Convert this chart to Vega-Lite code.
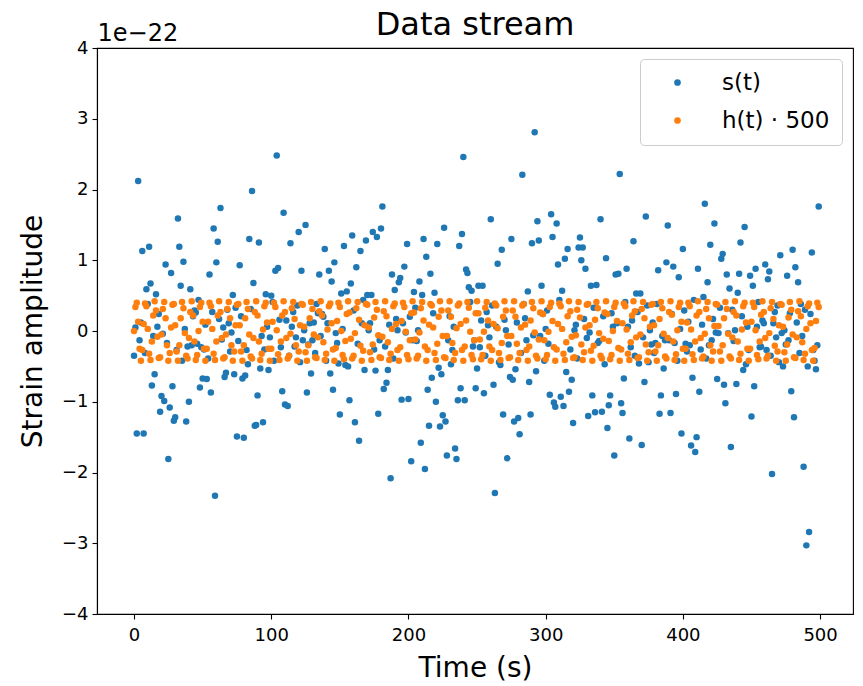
{
"$schema": "https://vega.github.io/schema/vega-lite/v6.json",
"width": 756, "height": 566,
"autosize": {"type": "none"},
"padding": {"left": 97, "top": 48, "right": 10, "bottom": 72},
"background": "white",
"title": {"text": "Data stream", "fontSize": 32, "font": "DejaVu Sans", "fontWeight": "normal", "color": "black", "offset": 0, "baseline": "alphabetic", "dy": 46},
"resolve": {"axis": {"x": "independent"}},
"config": {
 "view": {"stroke": "black", "strokeWidth": 1.1},
 "axis": {"domainColor": "black", "tickColor": "black", "labelColor": "black", "titleColor": "black", "labelFont": "DejaVu Sans", "titleFont": "DejaVu Sans", "titleFontWeight": "normal", "grid": false, "tickSize": 5, "labelFontSize": 18, "titleFontSize": 28, "domainWidth": 1.1, "tickWidth": 1.1},
 "legend": {"orient": "top-right", "offset": 11, "padding": 12, "strokeColor": "#cccccc", "fillColor": "white", "cornerRadius": 4, "labelFont": "DejaVu Sans", "labelFontSize": 23, "labelColor": "black", "symbolSize": 45, "symbolType": "circle", "symbolOffset": 14, "labelOffset": 33, "rowPadding": 14, "symbolStrokeWidth": 0}
},
"data": {"values": [
{"t":0,"s":-0.35,"h":0},{"t":1,"s":0.05,"h":0.34},{"t":2,"s":-1.45,"h":0.40},{"t":3,"s":2.12,"h":0.13},{"t":4,"s":-0.13,"h":-0.25},{"t":5,"s":0.12,"h":-0.42},{"t":6,"s":1.13,"h":-0.27},{"t":7,"s":-1.45,"h":0.10},{"t":8,"s":-0.31,"h":0.39},{"t":9,"s":0.59,"h":0.35},
{"t":10,"s":0.38,"h":0.03},{"t":11,"s":1.19,"h":-0.32},{"t":12,"s":0.67,"h":-0.41},{"t":13,"s":-0.77,"h":-0.15},{"t":14,"s":-0.07,"h":0.22},{"t":15,"s":-0.61,"h":0.42},{"t":16,"s":0.52,"h":0.29},{"t":17,"s":0.06,"h":-0.08},{"t":18,"s":0.24,"h":-0.38},{"t":19,"s":-1.14,"h":-0.37},
{"t":20,"s":-0.92,"h":-0.05},{"t":21,"s":-0.04,"h":0.31},{"t":22,"s":-0.99,"h":0.41},{"t":23,"s":0.94,"h":0.18},{"t":24,"s":-0.17,"h":-0.20},{"t":25,"s":-1.81,"h":-0.42},{"t":26,"s":-1.08,"h":-0.31},{"t":27,"s":0.82,"h":0.05},{"t":28,"s":-0.78,"h":0.37},{"t":29,"s":-1.27,"h":0.38},
{"t":30,"s":-1.22,"h":0.08},{"t":31,"s":-0.27,"h":-0.29},{"t":32,"s":1.59,"h":-0.42},{"t":33,"s":1.19,"h":-0.20},{"t":34,"s":0.64,"h":0.18},{"t":35,"s":-0.42,"h":0.41},{"t":36,"s":0.98,"h":0.32},{"t":37,"s":0.03,"h":-0.03},{"t":38,"s":-1.28,"h":-0.35},{"t":39,"s":-0.22,"h":-0.39},
{"t":40,"s":-1.00,"h":-0.10},{"t":41,"s":0.59,"h":0.27},{"t":42,"s":-0.20,"h":0.42},{"t":43,"s":0.21,"h":0.22},{"t":44,"s":0.29,"h":-0.15},{"t":45,"s":0.26,"h":-0.41},{"t":46,"s":-0.18,"h":-0.34},{"t":47,"s":0.44,"h":0},{"t":48,"s":-0.80,"h":0.34},{"t":49,"s":-0.23,"h":0.40},
{"t":50,"s":-0.67,"h":0.13},{"t":51,"s":-0.26,"h":-0.25},{"t":52,"s":0.09,"h":-0.42},{"t":53,"s":-0.68,"h":-0.25},{"t":54,"s":-0.39,"h":0.13},{"t":55,"s":0.80,"h":0.40},{"t":56,"s":-0.87,"h":0.35},{"t":57,"s":0.27,"h":0.03},{"t":58,"s":1.45,"h":-0.32},{"t":59,"s":-2.33,"h":-0.41},
{"t":60,"s":0.97,"h":-0.15},{"t":61,"s":1.26,"h":0.22},{"t":62,"s":0.17,"h":0.42},{"t":63,"s":1.74,"h":0.27},{"t":64,"s":-0.12,"h":-0.10},{"t":65,"s":0.05,"h":-0.39},{"t":66,"s":-0.65,"h":-0.37},{"t":67,"s":-0.59,"h":-0.05},{"t":68,"s":0.30,"h":0.31},{"t":69,"s":0.11,"h":0.41},
{"t":70,"s":-0.29,"h":0.18},{"t":71,"s":-0.02,"h":-0.20},{"t":72,"s":0.51,"h":-0.42},{"t":73,"s":-0.61,"h":-0.29},{"t":74,"s":0.33,"h":0.08},{"t":75,"s":-1.49,"h":0.37},{"t":76,"s":-0.14,"h":0.38},{"t":77,"s":0.93,"h":0.08},{"t":78,"s":0.21,"h":-0.29},{"t":79,"s":-0.67,"h":-0.42},
{"t":80,"s":-1.51,"h":-0.20},{"t":81,"s":-0.63,"h":0.18},{"t":82,"s":-0.27,"h":0.41},{"t":83,"s":-0.47,"h":0.31},{"t":84,"s":1.30,"h":-0.05},{"t":85,"s":0.31,"h":-0.36},{"t":86,"s":1.98,"h":-0.39},{"t":87,"s":0.68,"h":-0.10},{"t":88,"s":-1.34,"h":0.27},{"t":89,"s":-1.33,"h":0.42},
{"t":90,"s":-0.91,"h":0.22},{"t":91,"s":1.25,"h":-0.15},{"t":92,"s":-0.53,"h":-0.41},{"t":93,"s":-0.07,"h":-0.32},{"t":94,"s":-1.29,"h":0.02},{"t":95,"s":-0.26,"h":0.35},{"t":96,"s":0.52,"h":0.40},{"t":97,"s":0.06,"h":0.12},{"t":98,"s":-0.55,"h":-0.25},{"t":99,"s":-0.09,"h":-0.42},
{"t":100,"s":0.50,"h":-0.25},{"t":101,"s":0.41,"h":0.13},{"t":102,"s":-0.42,"h":0.40},{"t":103,"s":0.85,"h":0.34},{"t":104,"s":2.48,"h":0.01},{"t":105,"s":0.89,"h":-0.33},{"t":106,"s":0.16,"h":-0.41},{"t":107,"s":-0.23,"h":-0.15},{"t":108,"s":-0.85,"h":0.22},{"t":109,"s":1.67,"h":0.42},
{"t":110,"s":-1.04,"h":0.27},{"t":111,"s":0.15,"h":-0.10},{"t":112,"s":-1.06,"h":-0.39},{"t":113,"s":-0.35,"h":-0.35},{"t":114,"s":1.24,"h":-0.04},{"t":115,"s":0.06,"h":0.32},{"t":116,"s":0.27,"h":0.41},{"t":117,"s":-0.22,"h":0.17},{"t":118,"s":-0.09,"h":-0.20},{"t":119,"s":0.36,"h":-0.42},
{"t":120,"s":1.40,"h":-0.29},{"t":121,"s":-0.44,"h":0.08},{"t":122,"s":0.85,"h":0.38},{"t":123,"s":-0.13,"h":0.37},{"t":124,"s":0.01,"h":0.06},{"t":125,"s":1.50,"h":-0.30},{"t":126,"s":-0.87,"h":-0.42},{"t":127,"s":-0.19,"h":-0.20},{"t":128,"s":0.11,"h":0.18},{"t":129,"s":-0.60,"h":0.41},
{"t":130,"s":-0.13,"h":0.31},{"t":131,"s":0.12,"h":-0.05},{"t":132,"s":-0.31,"h":-0.37},{"t":133,"s":0.38,"h":-0.38},{"t":134,"s":0.25,"h":-0.09},{"t":135,"s":0.80,"h":0.28},{"t":136,"s":-0.07,"h":0.42},{"t":137,"s":0.24,"h":0.22},{"t":138,"s":0.20,"h":-0.16},{"t":139,"s":1.16,"h":-0.41},
{"t":140,"s":-0.42,"h":-0.32},{"t":141,"s":0.11,"h":0.02},{"t":142,"s":0.85,"h":0.35},{"t":143,"s":-0.60,"h":0.39},{"t":144,"s":0.70,"h":0.11},{"t":145,"s":-0.83,"h":-0.26},{"t":146,"s":0.97,"h":-0.42},{"t":147,"s":-0.03,"h":-0.24},{"t":148,"s":-0.17,"h":0.14},{"t":149,"s":-0.46,"h":0.40},
{"t":150,"s":-1.18,"h":0.34},{"t":151,"s":0.53,"h":0},{"t":152,"s":0.03,"h":-0.34},{"t":153,"s":1.20,"h":-0.40},{"t":154,"s":-0.48,"h":-0.14},{"t":155,"s":0.56,"h":0.24},{"t":156,"s":-0.50,"h":0.42},{"t":157,"s":-0.98,"h":0.26},{"t":158,"s":0.67,"h":-0.11},{"t":159,"s":1.35,"h":-0.39},
{"t":160,"s":0.29,"h":-0.35},{"t":161,"s":-1.29,"h":-0.03},{"t":162,"s":0.90,"h":0.32},{"t":163,"s":-0.18,"h":0.41},{"t":164,"s":-1.55,"h":0.16},{"t":165,"s":1.13,"h":-0.21},{"t":166,"s":0.11,"h":-0.42},{"t":167,"s":0.44,"h":-0.28},{"t":168,"s":-0.55,"h":0.08},{"t":169,"s":1.28,"h":0.38},
{"t":170,"s":0.51,"h":0.37},{"t":171,"s":0.01,"h":0.05},{"t":172,"s":0.11,"h":-0.30},{"t":173,"s":0.51,"h":-0.41},{"t":174,"s":1.40,"h":-0.19},{"t":175,"s":-0.26,"h":0.19},{"t":176,"s":-0.56,"h":0.41},{"t":177,"s":1.33,"h":0.30},{"t":178,"s":-1.17,"h":-0.06},{"t":179,"s":-0.13,"h":-0.37},
{"t":180,"s":1.45,"h":-0.38},{"t":181,"s":1.76,"h":-0.08},{"t":182,"s":-0.82,"h":0.28},{"t":183,"s":-0.22,"h":0.42},{"t":184,"s":-0.73,"h":0.21},{"t":185,"s":-0.55,"h":-0.16},{"t":186,"s":0.09,"h":-0.41},{"t":187,"s":-2.08,"h":-0.32},{"t":188,"s":0.80,"h":0.03},{"t":189,"s":-0.39,"h":0.35},
{"t":190,"s":0.58,"h":0.39},{"t":191,"s":0.17,"h":0.10},{"t":192,"s":0.01,"h":-0.27},{"t":193,"s":0.69,"h":-0.42},{"t":194,"s":0.75,"h":-0.23},{"t":195,"s":-0.97,"h":0.14},{"t":196,"s":0.11,"h":0.40},{"t":197,"s":0.91,"h":0.34},{"t":198,"s":-0.02,"h":-0.01},{"t":199,"s":1.23,"h":-0.34},
{"t":200,"s":-0.96,"h":-0.40},{"t":201,"s":0.20,"h":-0.13},{"t":202,"s":-1.84,"h":0.25},{"t":203,"s":-0.13,"h":0.42},{"t":204,"s":0.55,"h":0.26},{"t":205,"s":0.33,"h":-0.12},{"t":206,"s":-0.14,"h":-0.39},{"t":207,"s":0.01,"h":-0.35},{"t":208,"s":0.70,"h":-0.02},{"t":209,"s":-1.58,"h":0.32},
{"t":210,"s":0.51,"h":0.41},{"t":211,"s":1.30,"h":0.15},{"t":212,"s":-1.95,"h":-0.22},{"t":213,"s":1.05,"h":-0.42},{"t":214,"s":-0.83,"h":-0.27},{"t":215,"s":-1.34,"h":0.09},{"t":216,"s":0.81,"h":0.38},{"t":217,"s":-0.66,"h":0.36},{"t":218,"s":0.25,"h":0.05},{"t":219,"s":0.54,"h":-0.31},
{"t":220,"s":-1.00,"h":-0.41},{"t":221,"s":1.23,"h":-0.18},{"t":222,"s":-0.52,"h":0.20},{"t":223,"s":-1.35,"h":0.42},{"t":224,"s":-0.61,"h":0.29},{"t":225,"s":-1.19,"h":-0.07},{"t":226,"s":1.46,"h":-0.37},{"t":227,"s":-1.28,"h":-0.38},{"t":228,"s":-1.76,"h":-0.07},{"t":229,"s":-0.13,"h":0.29},
{"t":230,"s":0.21,"h":0.42},{"t":231,"s":-0.47,"h":0.20},{"t":232,"s":-0.27,"h":-0.17},{"t":233,"s":0.06,"h":-0.41},{"t":234,"s":-1.66,"h":-0.31},{"t":235,"s":-1.81,"h":0.04},{"t":236,"s":-0.98,"h":0.36},{"t":237,"s":1.20,"h":0.39},{"t":238,"s":-0.81,"h":0.10},{"t":239,"s":1.37,"h":-0.27},
{"t":240,"s":2.46,"h":-0.42},{"t":241,"s":-0.98,"h":-0.22},{"t":242,"s":0.87,"h":0.15},{"t":243,"s":0.82,"h":0.41},{"t":244,"s":0.62,"h":0.33},{"t":245,"s":0.41,"h":-0.01},{"t":246,"s":0.57,"h":-0.34},{"t":247,"s":-0.22,"h":-0.40},{"t":248,"s":-0.13,"h":-0.13},{"t":249,"s":-0.81,"h":0.25},
{"t":250,"s":-0.53,"h":0.42},{"t":251,"s":0.64,"h":0.25},{"t":252,"s":-0.23,"h":-0.12},{"t":253,"s":0.15,"h":-0.40},{"t":254,"s":0.64,"h":-0.34},{"t":255,"s":-0.88,"h":-0.01},{"t":256,"s":-0.35,"h":0.33},{"t":257,"s":0.27,"h":0.41},{"t":258,"s":0.08,"h":0.15},{"t":259,"s":-0.09,"h":-0.22},
{"t":260,"s":1.58,"h":-0.42},{"t":261,"s":0.36,"h":-0.27},{"t":262,"s":-0.76,"h":0.10},{"t":263,"s":-2.29,"h":0.39},{"t":264,"s":0.06,"h":0.36},{"t":265,"s":0.95,"h":0.04},{"t":266,"s":-0.44,"h":-0.31},{"t":267,"s":-0.48,"h":-0.41},{"t":268,"s":1.15,"h":-0.17},{"t":269,"s":-1.18,"h":0.20},
{"t":270,"s":0.16,"h":0.42},{"t":271,"s":0.01,"h":0.29},{"t":272,"s":-1.80,"h":-0.07},{"t":273,"s":-0.19,"h":-0.38},{"t":274,"s":-0.65,"h":-0.37},{"t":275,"s":1.30,"h":-0.07},{"t":276,"s":-0.69,"h":0.29},{"t":277,"s":-1.28,"h":0.42},{"t":278,"s":-0.54,"h":0.20},{"t":279,"s":0.12,"h":-0.18},
{"t":280,"s":-1.23,"h":-0.41},{"t":281,"s":-1.46,"h":-0.31},{"t":282,"s":-0.31,"h":0.05},{"t":283,"s":2.21,"h":0.36},{"t":284,"s":0.38,"h":0.38},{"t":285,"s":0.18,"h":0.09},{"t":286,"s":-0.13,"h":-0.27},{"t":287,"s":0.56,"h":-0.42},{"t":288,"s":-0.72,"h":-0.22},{"t":289,"s":-1.18,"h":0.15},
{"t":290,"s":1.24,"h":0.41},{"t":291,"s":-0.06,"h":0.32},{"t":292,"s":2.81,"h":-0.02},{"t":293,"s":-0.57,"h":-0.35},{"t":294,"s":1.55,"h":-0.39},{"t":295,"s":1.28,"h":-0.12},{"t":296,"s":-0.07,"h":0.26},{"t":297,"s":0.64,"h":0.42},{"t":298,"s":0.24,"h":0.24},{"t":299,"s":-0.42,"h":-0.13},
{"t":300,"s":0.03,"h":-0.40},{"t":301,"s":0.29,"h":-0.34},{"t":302,"s":-0.18,"h":-0.01},{"t":303,"s":-0.90,"h":0.34},{"t":304,"s":1.65,"h":0.40},{"t":305,"s":1.33,"h":0.14},{"t":306,"s":-1.01,"h":-0.23},{"t":307,"s":-1.07,"h":-0.42},{"t":308,"s":1.52,"h":-0.26},{"t":309,"s":0.94,"h":0.10},
{"t":310,"s":0.44,"h":0.39},{"t":311,"s":-0.93,"h":0.35},{"t":312,"s":0.57,"h":0.03},{"t":313,"s":-1.06,"h":-0.32},{"t":314,"s":1.02,"h":-0.41},{"t":315,"s":-0.58,"h":-0.16},{"t":316,"s":1.16,"h":0.21},{"t":317,"s":-0.86,"h":0.42},{"t":318,"s":-0.26,"h":0.28},{"t":319,"s":-0.69,"h":-0.08},
{"t":320,"s":-1.30,"h":-0.38},{"t":321,"s":0.01,"h":-0.37},{"t":322,"s":0.09,"h":-0.06},{"t":323,"s":-0.39,"h":0.30},{"t":324,"s":1.18,"h":0.41},{"t":325,"s":1.32,"h":0.19},{"t":326,"s":1.00,"h":-0.19},{"t":327,"s":1.18,"h":-0.41},{"t":328,"s":0.17,"h":-0.30},{"t":329,"s":0.88,"h":0.05},
{"t":330,"s":-0.10,"h":0.37},{"t":331,"s":-1.20,"h":0.38},{"t":332,"s":-0.02,"h":0.08},{"t":333,"s":0.64,"h":-0.28},{"t":334,"s":-0.91,"h":-0.42},{"t":335,"s":0.33,"h":-0.21},{"t":336,"s":-1.15,"h":0.16},{"t":337,"s":0.65,"h":0.41},{"t":338,"s":-0.17,"h":0.32},{"t":339,"s":-0.14,"h":-0.03},
{"t":340,"s":1.58,"h":-0.35},{"t":341,"s":-1.14,"h":-0.39},{"t":342,"s":0.21,"h":-0.11},{"t":343,"s":-0.47,"h":0.26},{"t":344,"s":1.03,"h":0.42},{"t":345,"s":-1.37,"h":0.24},{"t":346,"s":-1.05,"h":-0.14},{"t":347,"s":-0.91,"h":-0.40},{"t":348,"s":0.25,"h":-0.34},{"t":349,"s":0.06,"h":0},
{"t":350,"s":-1.76,"h":0.34},{"t":351,"s":0.80,"h":0.40},{"t":352,"s":0.11,"h":0.14},{"t":353,"s":0.81,"h":-0.24},{"t":354,"s":2.22,"h":-0.42},{"t":355,"s":-1.02,"h":-0.26},{"t":356,"s":-1.16,"h":0.11},{"t":357,"s":-0.67,"h":0.39},{"t":358,"s":0.41,"h":0.35},{"t":359,"s":0.88,"h":0.02},
{"t":360,"s":0.06,"h":-0.32},{"t":361,"s":-1.52,"h":-0.41},{"t":362,"s":-0.23,"h":-0.16},{"t":363,"s":0.15,"h":0.22},{"t":364,"s":1.27,"h":0.42},{"t":365,"s":-0.35,"h":0.28},{"t":366,"s":0.53,"h":-0.09},{"t":367,"s":0.27,"h":-0.38},{"t":368,"s":-0.46,"h":-0.37},{"t":369,"s":0.53,"h":-0.05},
{"t":370,"s":-1.61,"h":0.31},{"t":371,"s":-0.09,"h":0.41},{"t":372,"s":-0.72,"h":0.18},{"t":373,"s":1.62,"h":-0.19},{"t":374,"s":0.36,"h":-0.42},{"t":375,"s":-0.44,"h":-0.30},{"t":376,"s":0.01,"h":0.06},{"t":377,"s":-0.19,"h":0.37},{"t":378,"s":0.12,"h":0.38},{"t":379,"s":-0.31,"h":0.08},
{"t":380,"s":-0.17,"h":-0.29},{"t":381,"s":0.38,"h":-0.42},{"t":382,"s":0.86,"h":-0.20},{"t":383,"s":-1.17,"h":0.17},{"t":384,"s":-0.91,"h":0.41},{"t":385,"s":-0.07,"h":0.32},{"t":386,"s":-0.53,"h":-0.04},{"t":387,"s":-0.13,"h":-0.36},{"t":388,"s":0.97,"h":-0.39},{"t":389,"s":1.49,"h":-0.10},
{"t":390,"s":-0.13,"h":0.27},{"t":391,"s":-1.16,"h":0.42},{"t":392,"s":0.24,"h":0.23},{"t":393,"s":0.91,"h":-0.15},{"t":394,"s":-0.17,"h":-0.41},{"t":395,"s":-0.89,"h":-0.33},{"t":396,"s":-0.42,"h":0.01},{"t":397,"s":0.76,"h":0.34},{"t":398,"s":0.03,"h":0.40},{"t":399,"s":-1.45,"h":0.13},
{"t":400,"s":1.16,"h":-0.25},{"t":401,"s":0.29,"h":-0.42},{"t":402,"s":-0.18,"h":-0.25},{"t":403,"s":-0.29,"h":0.12},{"t":404,"s":0.13,"h":0.40},{"t":405,"s":-0.20,"h":0.35},{"t":406,"s":-1.62,"h":0.02},{"t":407,"s":-0.66,"h":-0.33},{"t":408,"s":0.44,"h":-0.41},{"t":409,"s":-1.71,"h":-0.15},
{"t":410,"s":-1.50,"h":0.22},{"t":411,"s":0.88,"h":0.42},{"t":412,"s":-0.86,"h":0.27},{"t":413,"s":-0.26,"h":-0.10},{"t":414,"s":0.09,"h":-0.39},{"t":415,"s":0.48,"h":-0.36},{"t":416,"s":1.80,"h":-0.04},{"t":417,"s":-0.39,"h":0.31},{"t":418,"s":0.69,"h":0.41},{"t":419,"s":-0.20,"h":0.18},
{"t":420,"s":1.22,"h":-0.20},{"t":421,"s":-0.13,"h":-0.42},{"t":422,"s":0.17,"h":-0.29},{"t":423,"s":1.52,"h":0.07},{"t":424,"s":-0.02,"h":0.38},{"t":425,"s":-0.68,"h":0.37},{"t":426,"s":-0.03,"h":0.07},{"t":427,"s":0.33,"h":-0.29},{"t":428,"s":1.02,"h":-0.42},{"t":429,"s":1.09,"h":-0.20},
{"t":430,"s":-0.76,"h":0.18},{"t":431,"s":-1.02,"h":0.41},{"t":432,"s":0.80,"h":0.31},{"t":433,"s":-0.03,"h":-0.04},{"t":434,"s":0.60,"h":-0.36},{"t":435,"s":-1.64,"h":-0.39},{"t":436,"s":0.30,"h":-0.09},{"t":437,"s":-0.14,"h":0.27},{"t":438,"s":0.01,"h":0.42},{"t":439,"s":-0.75,"h":0.22},
{"t":440,"s":0.54,"h":-0.15},{"t":441,"s":0.81,"h":-0.41},{"t":442,"s":1.25,"h":-0.32},{"t":443,"s":0.21,"h":0.02},{"t":444,"s":-0.55,"h":0.35},{"t":445,"s":1.47,"h":0.40},{"t":446,"s":-0.47,"h":0.12},{"t":447,"s":0.06,"h":-0.25},{"t":448,"s":-0.27,"h":-0.42},{"t":449,"s":0.78,"h":-0.25},
{"t":450,"s":-1.21,"h":0.13},{"t":451,"s":0.64,"h":0.40},{"t":452,"s":-0.78,"h":0.34},{"t":453,"s":0.88,"h":0.01},{"t":454,"s":0.06,"h":-0.34},{"t":455,"s":0.41,"h":-0.40},{"t":456,"s":-0.23,"h":-0.15},{"t":457,"s":-0.22,"h":0.23},{"t":458,"s":0.15,"h":0.42},{"t":459,"s":0.11,"h":0.27},
{"t":460,"s":0.94,"h":-0.10},{"t":461,"s":-0.27,"h":-0.39},{"t":462,"s":0.73,"h":-0.35},{"t":463,"s":0.84,"h":-0.03},{"t":464,"s":-0.35,"h":0.32},{"t":465,"s":-2.02,"h":0.41},{"t":466,"s":0.11,"h":0.17},{"t":467,"s":0.27,"h":-0.21},{"t":468,"s":-0.09,"h":-0.42},{"t":469,"s":0.36,"h":-0.29},
{"t":470,"s":-0.44,"h":0.08},{"t":471,"s":1.07,"h":0.38},{"t":472,"s":-0.03,"h":0.37},{"t":473,"s":-0.50,"h":0.06},{"t":474,"s":0.01,"h":-0.30},{"t":475,"s":-0.19,"h":-0.42},{"t":476,"s":0.78,"h":-0.19},{"t":477,"s":-0.13,"h":0.19},{"t":478,"s":0.25,"h":0.41},{"t":479,"s":-0.85,"h":0.30},
{"t":480,"s":1.15,"h":-0.05},{"t":481,"s":-1.22,"h":-0.37},{"t":482,"s":0.90,"h":-0.38},{"t":483,"s":0.12,"h":-0.09},{"t":484,"s":0.69,"h":0.28},{"t":485,"s":-0.31,"h":0.42},{"t":486,"s":0.38,"h":0.21},{"t":487,"s":-0.07,"h":-0.16},{"t":488,"s":-1.92,"h":-0.41},{"t":489,"s":0.30,"h":-0.32},
{"t":490,"s":-3.03,"h":0.03},{"t":491,"s":-0.50,"h":0.35},{"t":492,"s":-2.84,"h":0.39},{"t":493,"s":0.24,"h":0.11},{"t":494,"s":1.11,"h":-0.27},{"t":495,"s":-0.27,"h":-0.42},{"t":496,"s":-0.42,"h":-0.24},{"t":497,"s":-0.54,"h":0.14},{"t":498,"s":-0.20,"h":0.40},{"t":499,"s":1.76,"h":0.34}
]},
"layer": [
 {"mark": {"type": "point", "filled": true, "size": 42, "opacity": 1},
  "encoding": {
   "x": {"field": "t", "type": "quantitative", "scale": {"domain": [-27, 524], "nice": false, "zero": false}, "axis": {"orient": "bottom", "values": [0, 100, 200, 300, 400, 500], "title": "Time (s)", "titlePadding": 10, "labelPadding": 7}},
   "y": {"field": "s", "type": "quantitative", "scale": {"domain": [-4, 4], "nice": false}, "axis": {"values": [-4, -3, -2, -1, 0, 1, 2, 3, 4], "format": "d", "title": "Strain amplitude", "titlePadding": 14, "labelPadding": 4}},
   "color": {"datum": "s(t)", "type": "nominal", "scale": {"domain": ["s(t)", "h(t) · 500"], "range": ["#1f77b4", "#ff7f0e"]}, "legend": {"title": null}}
  }},
 {"mark": {"type": "point", "filled": true, "size": 42, "opacity": 1},
  "encoding": {
   "x": {"field": "t", "type": "quantitative", "axis": {"orient": "top", "title": "1e−22", "labels": false, "ticks": false, "domain": false, "titleAnchor": "start", "titleAlign": "left", "titleX": 0, "titleY": -8, "titleBaseline": "alphabetic", "titleFontSize": 24}},
   "y": {"field": "h", "type": "quantitative"},
   "color": {"datum": "h(t) · 500", "type": "nominal"}
  }}
]
}
